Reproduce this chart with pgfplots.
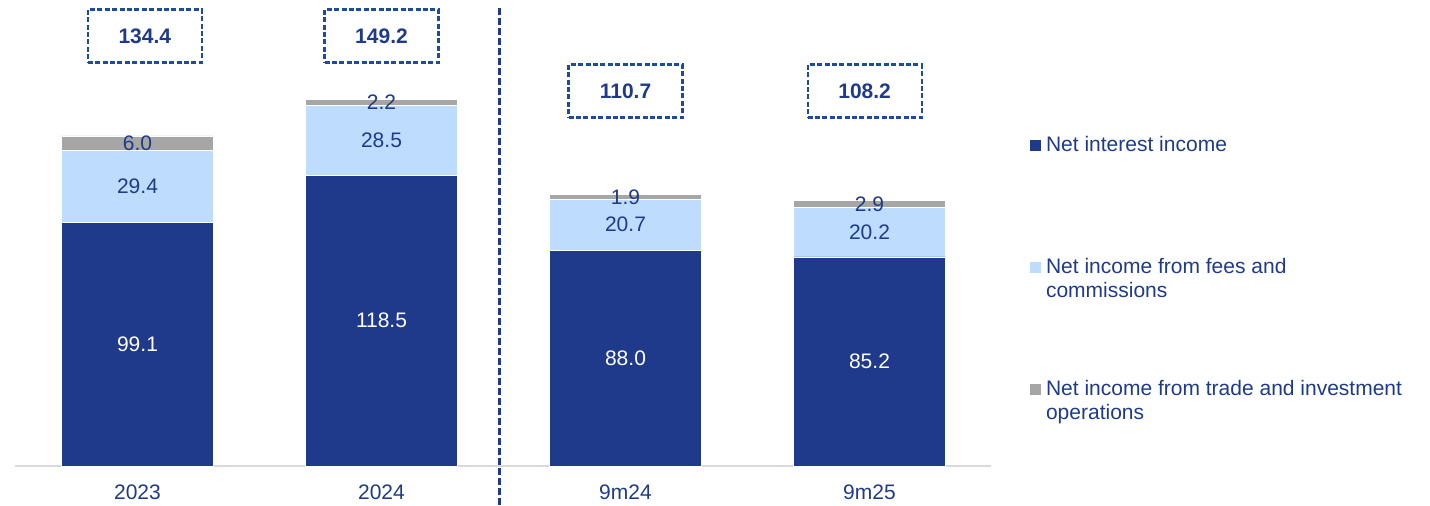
\documentclass[border=0pt]{standalone}
\usepackage{pgfplots}
\usepackage{pgfplotstable}
\pgfplotsset{compat=1.18}
\usepackage{fontspec}
\setmainfont{Liberation Sans}

\definecolor{navy}{RGB}{31,58,138}
\definecolor{feeblue}{RGB}{189,220,254}
\definecolor{tradegray}{RGB}{166,166,166}
\definecolor{boxblue}{RGB}{30,76,156}
\definecolor{axisgray}{RGB}{217,217,217}

\newcommand{\chartfont}{\fontsize{10.5pt}{12.25pt}\selectfont}

% Operating income components (bn)
\pgfplotstableread{
x nii fees trade
0 99.1 29.4 6.0
1 118.5 28.5 2.2
2 88.0 20.7 1.9
3 85.2 20.2 2.9
}\incometable

% Segment labels, placed at the middle of each segment
\pgfplotstableread{
x y label
0 49.55 99.1
1 59.25 118.5
2 44.00 88.0
3 42.60 85.2
}\niilabels
\pgfplotstableread{
x y label
0 113.80 29.4
1 132.75 28.5
2 98.35 20.7
3 95.30 20.2
}\feelabels
\pgfplotstableread{
x y label
0 131.50 6.0
1 148.10 2.2
2 109.65 1.9
3 106.85 2.9
}\tradelabels
% Totals shown in the dashed boxes
\pgfplotstableread{
x y label
0.03 175.2 134.4
1.00 175.2 149.2
2.00 152.8 110.7
2.98 152.8 108.2
}\totals

\newcommand{\niientry}{Net interest income}
\newcommand{\feeentry}{\begin{tabular}[t]{@{}l@{}}Net income from fees and\\commissions\end{tabular}}
\newcommand{\tradeentry}{\begin{tabular}[t]{@{}l@{}}Net income from trade and investment\\operations\end{tabular}}

\pgfplotsset{
  frame/.style={
    at={(0,0)}, anchor=south west,
    width=488pt, height=233.13pt, scale only axis,
    xmin=-0.5, xmax=3.5, ymin=0, ymax=190,
    clip=false,
  },
}

\begin{document}
\begin{tikzpicture}
\path[use as bounding box] (-7.75pt,-19.5pt) rectangle (707.25pt,233pt);

\begin{axis}[
  frame,
  ybar stacked, bar width=0.623,
  axis x line*=bottom, axis y line=none,
  x axis line style={draw=axisgray, line width=1pt},
  xtick={0,1,2,3}, xticklabels={2023,2024,9m24,9m25},
  major tick length=0pt,
  xticklabel style={text=navy, font=\chartfont, yshift=-5.75pt},
  legend cell align=left,
  % legend rows are centred on the text cell, whose first line sits 22.9pt above its centre
  legend image code/.code={\fill[#1, draw=none] (0pt,22.9pt) rectangle (5.5pt,28.4pt);},
  legend style={
    at={(axis description cs:1.0395,0.708)}, anchor=north west,
    draw=none, fill=none, inner sep=0pt, outer sep=0pt,
    row sep=0pt, column sep=2.5pt,
    nodes={inner sep=0pt, text=navy, font=\chartfont, text height=7.6pt, text depth=53.4pt},
  },
]
\addplot[fill=navy, draw=white, line width=0.4pt] table[x=x, y=nii] {\incometable};
\addlegendentry{\niientry}
\addplot[fill=feeblue, draw=white, line width=0.4pt] table[x=x, y=fees] {\incometable};
\addlegendentry{\feeentry}
\addplot[fill=tradegray, draw=white, line width=0.4pt] table[x=x, y=trade] {\incometable};
\addlegendentry{\tradeentry}
\end{axis}

\begin{axis}[
  frame, hide axis,
  nodes near coords align=center,
  every node near coord/.append style={anchor=center, font=\chartfont, inner sep=0pt},
]
\addplot[draw=none, mark=none, nodes near coords, point meta=explicit symbolic,
  every node near coord/.append style={text=white}]
  table[x=x, y=y, meta=label] {\niilabels};
\addplot[draw=none, mark=none, nodes near coords, point meta=explicit symbolic,
  every node near coord/.append style={text=navy}]
  table[x=x, y=y, meta=label] {\feelabels};
\addplot[draw=none, mark=none, nodes near coords, point meta=explicit symbolic,
  every node near coord/.append style={text=navy}]
  table[x=x, y=y, meta=label] {\tradelabels};
\addplot[draw=none, mark=none, nodes near coords, point meta=explicit symbolic,
  every node near coord/.append style={text=navy, font=\chartfont\bfseries,
    draw=boxblue, line width=1.1pt, dash pattern=on 2.5pt off 1.2pt,
    minimum width=57pt, minimum height=26.5pt}]
  table[x=x, y=y, meta=label] {\totals};
% divider between full years and nine-month periods
\draw[navy, line width=1.5pt, dash pattern=on 3.5pt off 1.5pt]
  (axis cs:1.485,186.6) -- (axis cs:1.485,-16);
\end{axis}
\end{tikzpicture}
\end{document}
